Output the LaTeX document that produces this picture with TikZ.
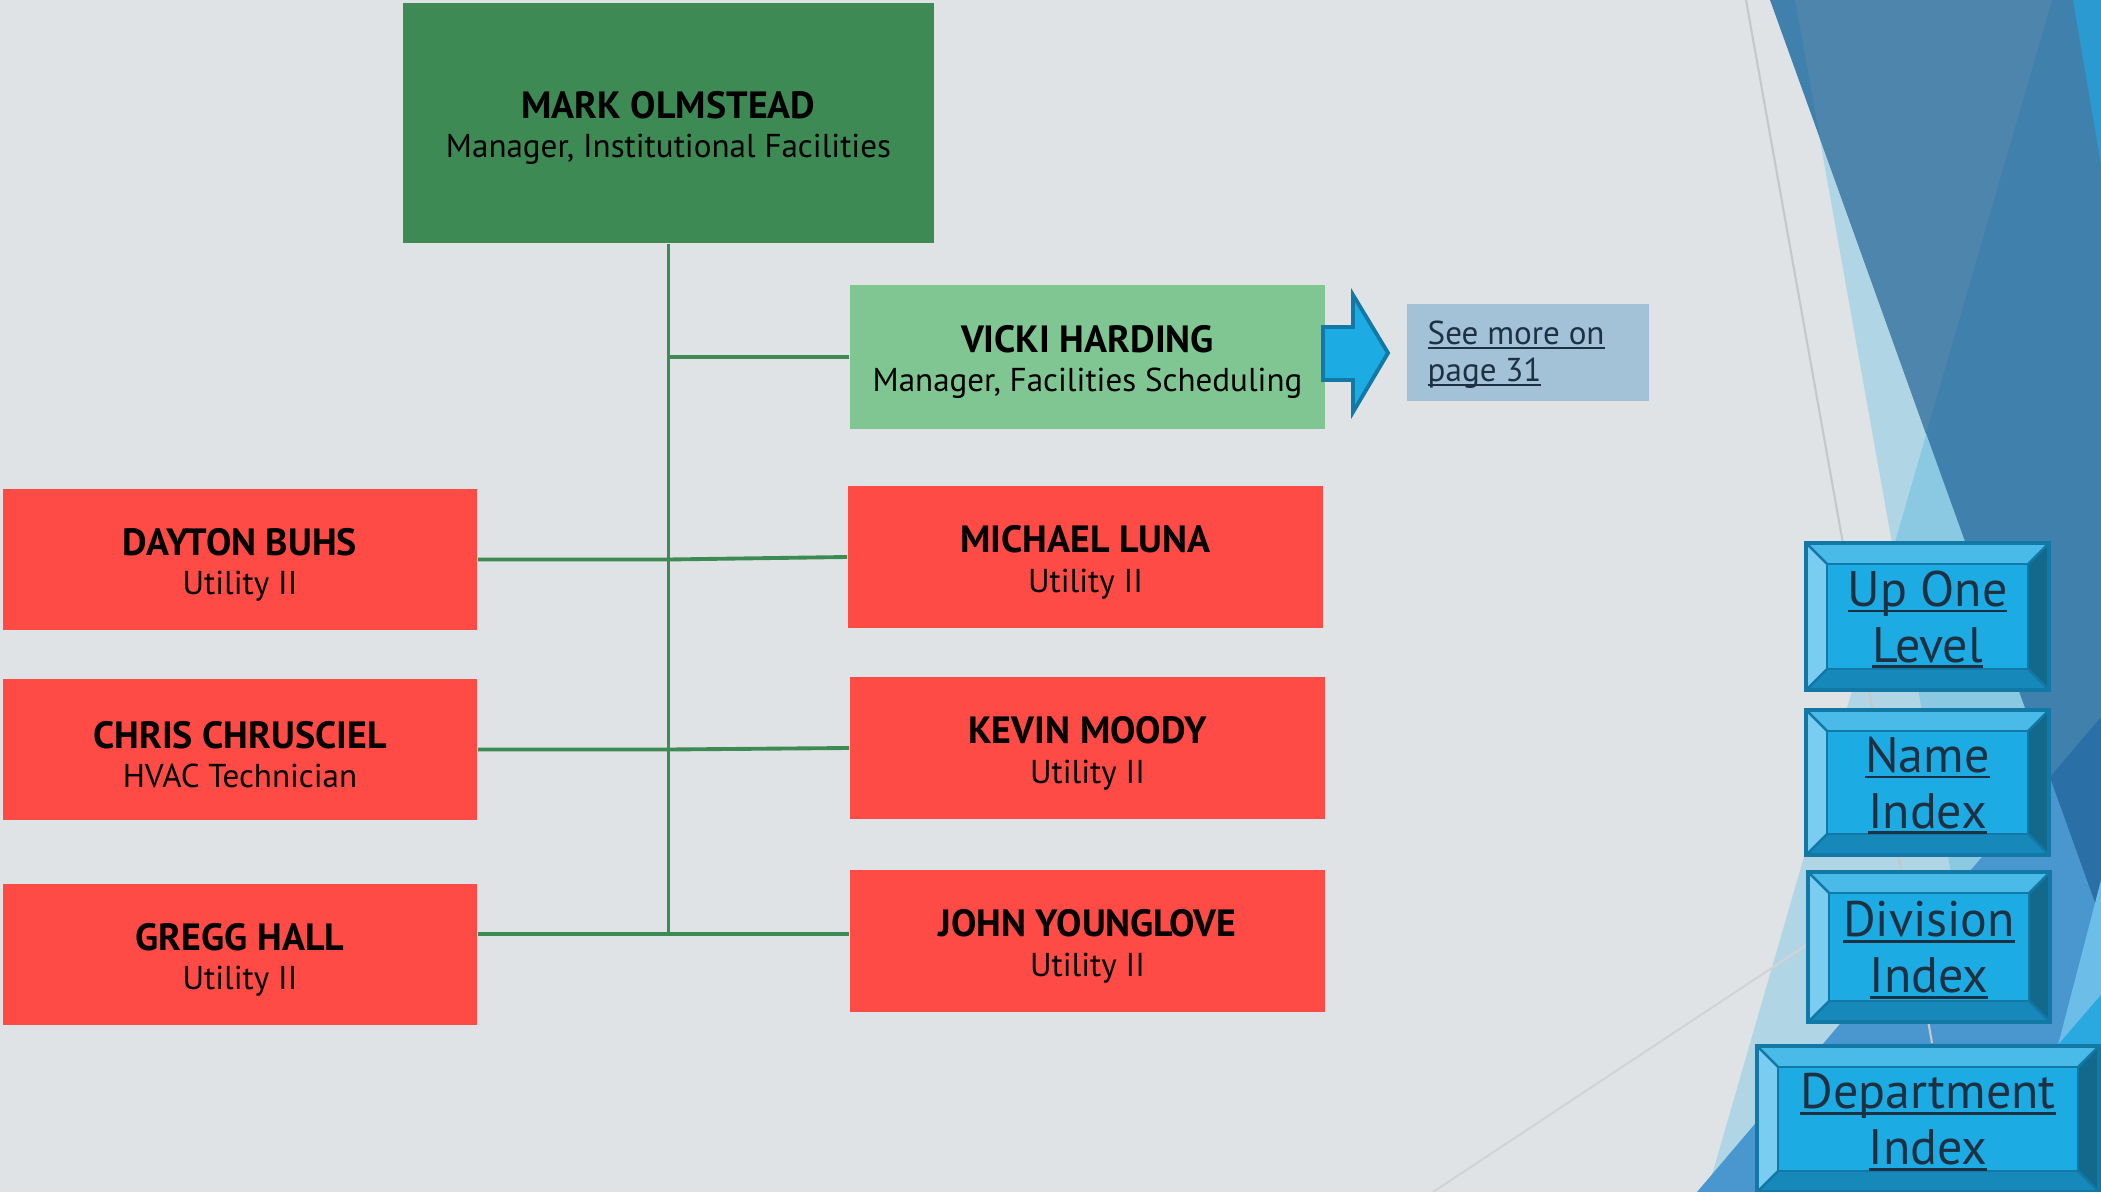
\documentclass[tikz,border=0pt]{standalone}
\usepackage{fontspec}
\setmainfont{PT Sans}
\definecolor{cBg}{HTML}{E0E3E6}
\definecolor{cPale}{HTML}{B0D6E5}
\definecolor{cMid}{HTML}{8BC9E3}
\definecolor{cMed}{HTML}{4A96CE}
\definecolor{cDark}{HTML}{3F80AC}
\definecolor{cSteel}{HTML}{4E85AD}
\definecolor{cDeep}{HTML}{2A6FA5}
\definecolor{cTopBright}{HTML}{2A9AD0}
\definecolor{cLightW}{HTML}{6CBDE7}
\definecolor{cBrightB}{HTML}{2AA8E0}
\definecolor{cGrayLine}{HTML}{C6C7C9}
\definecolor{cGrayLineB}{HTML}{D2D3D5}
\definecolor{cGreen}{HTML}{3E8A55}
\definecolor{cLGreen}{HTML}{7FC693}
\definecolor{cRed}{HTML}{FF4B45}
\definecolor{cLine}{HTML}{3E8A55}
\definecolor{cMore}{HTML}{A3C1D7}
\definecolor{cNavy}{HTML}{1D3142}
\definecolor{cBtop}{HTML}{4ABBE9}
\definecolor{cBleft}{HTML}{7ACDF1}
\definecolor{cBright}{HTML}{12698C}
\definecolor{cBbot}{HTML}{1688B9}
\definecolor{cBface}{HTML}{1DABE3}
\definecolor{cBedge}{HTML}{1279A6}
\newlength\ullen
\newcommand\myul[1]{\settowidth\ullen{#1}\rlap{\rule[-0.12em]{\ullen}{0.055em}}#1}
\newcommand\nm[1]{{\fontsize{10.8}{11.2}\selectfont\bfseries\rule{0pt}{10.7pt}#1}}
\tikzset{
  orgbox/.style={rectangle, inner sep=0pt, align=center, text=black,
    font=\fontsize{9.4}{11.2}\selectfont},
  redbox/.style={orgbox, fill=cRed, minimum width=4.74cm, minimum height=1.41cm},
  conn/.style={draw=cLine, line width=1.1pt},
  btntext/.style={inner sep=0pt, align=center, text=cNavy,
    font=\fontsize{14.2}{15.9}\selectfont},
  bgline/.style={draw=cGrayLine, line width=0.6pt}
}
\newcommand\bevelbtn[6]{%
  \fill[cBtop] (#2,#3) -- (#4,#3) -- ({#4-21},{#3+21}) -- ({#2+21},{#3+21}) -- cycle;
  \fill[cBleft] (#2,#3) -- ({#2+21},{#3+21}) -- ({#2+21},{#5-21}) -- (#2,#5) -- cycle;
  \fill[cBright] (#4,#3) -- (#4,#5) -- ({#4-21},{#5-21}) -- ({#4-21},{#3+21}) -- cycle;
  \fill[cBbot] (#2,#5) -- (#4,#5) -- ({#4-21},{#5-21}) -- ({#2+21},{#5-21}) -- cycle;
  \draw[cBedge, line width=0.7pt, fill=cBface] ({#2+21},{#3+21}) rectangle ({#4-21},{#5-21});
  \draw[cBedge, line width=0.7pt] (#2,#3) -- ({#2+21},{#3+21})
     (#4,#3) -- ({#4-21},{#3+21}) (#2,#5) -- ({#2+21},{#5-21}) (#4,#5) -- ({#4-21},{#5-21});
  \draw[cBedge, line width=1.2pt] (#2,#3) rectangle (#4,#5);
  \node[btntext] (#1) at ({(#2+#4)/2},{(#3+#5)/2+3}) {#6};
}
\begin{document}
\begin{tikzpicture}[x=0.01cm, y=-0.01cm]
\fill[cBg] (0,0) rectangle (2101,1192);
\useasboundingbox (0,0) rectangle (2101,1192);
% right-hand decoration
\fill[cPale] (1795,0) -- (2101,0) -- (2101,1192) -- (1707,1192) -- (1893,549) -- cycle;
\fill[cMid] (2052,0) -- (2101,0) -- (2101,1192) -- (2008,1192) -- (1893,549) -- cycle;
\fill[cMed] (1697,1192) -- (2101,717) -- (2101,1192) -- cycle;
\draw[bgline] (1746,0) -- (1932,1043);
\draw[bgline, draw=cGrayLineB] (1433,1192) -- (1808,944);
\fill[cDark] (1770,0) -- (2101,0) -- (2101,919) -- cycle;
\fill[cSteel] (1795,0) -- (2052,0) -- (1926,434) -- (1820,138) -- cycle;
\fill[cDeep] (2050,777) -- (2101,717) -- (2101,919) -- cycle;
\fill[cTopBright] (2073,0) -- (2101,0) -- (2101,165) -- cycle;
\fill[cLightW] (2101,880) -- (2101,995) -- (2058,1045) -- cycle;
\fill[cBrightB] (2058,1045) -- (2101,995) -- (2101,1192) -- (2030,1192) -- cycle;

% org chart boxes
\node[orgbox, fill=cGreen, minimum width=5.31cm, minimum height=2.40cm] (mark) at (668.5,123)
  {\nm{MARK OLMSTEAD}\\Manager, Institutional Facilities};
\node[orgbox, fill=cLGreen, minimum width=4.75cm, minimum height=1.44cm] (vicki) at (1087.5,357)
  {\nm{VICKI HARDING}\\Manager, Facilities Scheduling};
\node[redbox] (dayton) at (240,559.5) {\nm{DAYTON BUHS}\\Utility II};
\node[redbox] (chris) at (240,749.5) {\nm{CHRIS CHRUSCIEL}\\HVAC Technician};
\node[redbox] (gregg) at (240,954.5) {\nm{GREGG HALL}\\Utility II};
\node[redbox, minimum width=4.75cm, minimum height=1.42cm] (michael) at (1085.5,557) {\nm{MICHAEL LUNA}\\Utility II};
\node[redbox, minimum width=4.75cm, minimum height=1.42cm] (kevin) at (1087.5,748) {\nm{KEVIN MOODY}\\Utility II};
\node[redbox, minimum width=4.75cm, minimum height=1.42cm] (john) at (1087.5,941) {\nm{JOHN YOUNGLOVE}\\Utility II};

% connectors
\coordinate (trunkbot) at (668.5,934);
\draw[conn] (mark.south) -- (trunkbot);
\draw[conn] (vicki.west) -- (vicki.west -| mark.south);
\draw[conn] (dayton.east) -- (dayton.east -| mark.south) -- (michael.west);
\draw[conn] (chris.east) -- (chris.east -| mark.south) -- (kevin.west);
\draw[conn] (gregg.east |- trunkbot) -- (trunkbot) -- (john.west |- trunkbot);

% block arrow and link box
\draw[cBedge, fill=cBface, line width=1.1pt, line join=miter]
  (1323,327) -- (1353,327) -- (1353,295) -- (1388,353) -- (1353,412) -- (1353,380) -- (1323,380) -- cycle;
\node[fill=cMore, minimum width=2.42cm, minimum height=0.97cm, inner sep=0pt] (more) at (1528,352.5) {};
\node[anchor=west, inner sep=0pt, align=left, text=cNavy, font=\fontsize{9.4}{10.5}\selectfont]
  (moretext) at (1427,355) {\myul{See more on}\\\myul{page 31}};

% navigation buttons
\bevelbtn{up}{1806}{543}{2049}{690}{\myul{Up One}\\\myul{Level}}
\bevelbtn{nameidx}{1806}{710}{2049}{855}{\myul{Name}\\\myul{Index}}
\bevelbtn{dividx}{1808}{872}{2050}{1022}{\myul{Division}\\\myul{Index}}
\bevelbtn{deptidx}{1757}{1046}{2099}{1192}{\myul{Department}\\\myul{Index}}
\end{tikzpicture}
\end{document}
